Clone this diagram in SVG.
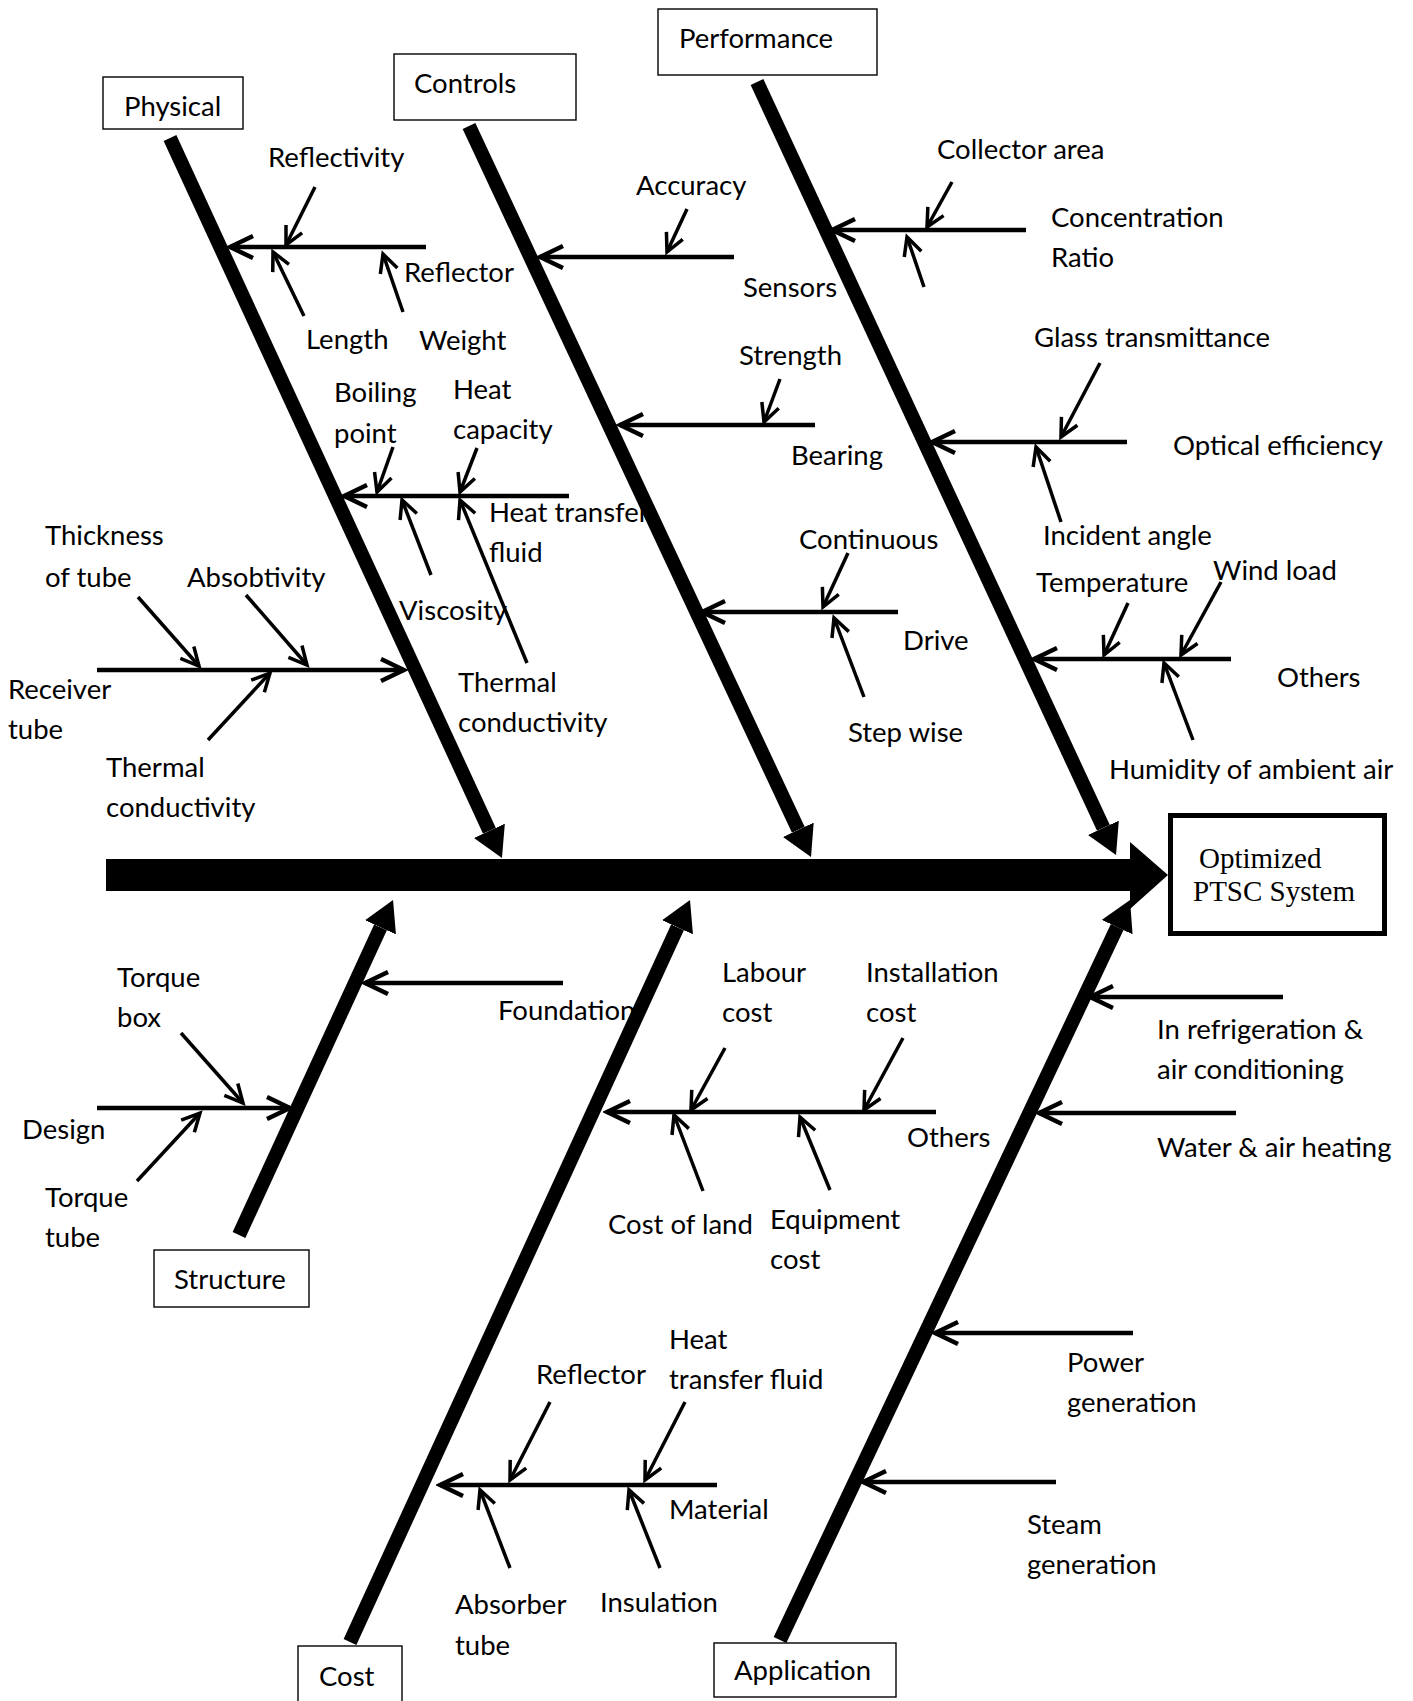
<svg xmlns="http://www.w3.org/2000/svg" width="1413" height="1701" viewBox="0 0 1413 1701">
<style>
.t{font-family:Lato,"Liberation Sans",sans-serif;font-size:27.5px;fill:#000}
.sf{font-family:"Liberation Serif",serif;font-size:29px;fill:#000}
.box{fill:#fff;stroke:#000;stroke-width:1.4}
.bone{stroke:#000;stroke-width:14;fill:none;marker-end:url(#head)}
.br{stroke:#000;stroke-width:4.5;fill:none;marker-end:url(#chev)}
.sub{stroke:#000;stroke-width:3.5;fill:none;marker-end:url(#chevS)}
</style>
<defs>
<marker id="head" markerUnits="userSpaceOnUse" viewBox="0 -17 30 34" markerWidth="30" markerHeight="34" refX="0" refY="0" orient="auto"><path d="M0,-17 L30,0 L0,17 z" fill="#000"/></marker>
<marker id="chev" markerUnits="userSpaceOnUse" viewBox="-28 -15 32 30" markerWidth="32" markerHeight="30" refX="0" refY="0" orient="auto"><path d="M-23,-11 L0,0 L-23,11" fill="none" stroke="#000" stroke-width="4.5"/></marker>
<marker id="chevS" markerUnits="userSpaceOnUse" viewBox="-22 -13 26 26" markerWidth="26" markerHeight="26" refX="0" refY="0" orient="auto"><path d="M-18,-9 L0,0 L-18,9" fill="none" stroke="#000" stroke-width="3.5"/></marker>
</defs>
<rect width="1413" height="1701" fill="#fff"/>

<g id="labels-physical" transform="translate(0,2)">
<text class="t" x="268" y="165">Reflectivity</text>
<text class="t" x="404" y="280">Reflector</text>
<text class="t" x="306" y="347">Length</text>
<text class="t" x="419" y="348">Weight</text>
<text class="t" x="334" y="400">Boiling</text>
<text class="t" x="334" y="441">point</text>
<text class="t" x="453" y="397">Heat</text>
<text class="t" x="453" y="437">capacity</text>
<text class="t" x="489" y="520">Heat transfer</text>
<text class="t" x="489" y="560">fluid</text>
<text class="t" x="399" y="618">Viscosity</text>
<text class="t" x="458" y="690">Thermal</text>
<text class="t" x="458" y="730">conductivity</text>
<text class="t" x="45" y="543">Thickness</text>
<text class="t" x="45" y="585">of tube</text>
<text class="t" x="187" y="585">Absobtivity</text>
<text class="t" x="8" y="697">Receiver</text>
<text class="t" x="8" y="737">tube</text>
<text class="t" x="106" y="775">Thermal</text>
<text class="t" x="106" y="815">conductivity</text>
</g>
<g id="labels-controls" transform="translate(0,2)">
<text class="t" x="636" y="193">Accuracy</text>
<text class="t" x="743" y="295">Sensors</text>
<text class="t" x="739" y="363">Strength</text>
<text class="t" x="791" y="463">Bearing</text>
<text class="t" x="799" y="547">Continuous</text>
<text class="t" x="903" y="648">Drive</text>
<text class="t" x="848" y="740">Step wise</text>
</g>
<g id="labels-performance" transform="translate(0,2)">
<text class="t" x="937" y="157">Collector area</text>
<text class="t" x="1051" y="225">Concentration</text>
<text class="t" x="1051" y="265">Ratio</text>
<text class="t" x="1034" y="345">Glass transmittance</text>
<text class="t" x="1173" y="453">Optical efficiency</text>
<text class="t" x="1043" y="543">Incident angle</text>
<text class="t" x="1036" y="590">Temperature</text>
<text class="t" x="1213" y="578">Wind load</text>
<text class="t" x="1277" y="685">Others</text>
<text class="t" x="1109" y="777">Humidity of ambient air</text>
</g>
<g id="labels-structure" transform="translate(0,2)">
<text class="t" x="498" y="1018">Foundation</text>
<text class="t" x="117" y="985">Torque</text>
<text class="t" x="117" y="1025">box</text>
<text class="t" x="22" y="1137">Design</text>
<text class="t" x="45" y="1205">Torque</text>
<text class="t" x="45" y="1245">tube</text>
</g>
<g id="labels-cost" transform="translate(0,2)">
<text class="t" x="722" y="980">Labour</text>
<text class="t" x="722" y="1020">cost</text>
<text class="t" x="866" y="980">Installation</text>
<text class="t" x="866" y="1020">cost</text>
<text class="t" x="907" y="1145">Others</text>
<text class="t" x="608" y="1232">Cost of land</text>
<text class="t" x="770" y="1227">Equipment</text>
<text class="t" x="770" y="1267">cost</text>
<text class="t" x="536" y="1382">Reflector</text>
<text class="t" x="669" y="1347">Heat</text>
<text class="t" x="669" y="1387">transfer fluid</text>
<text class="t" x="669" y="1517">Material</text>
<text class="t" x="455" y="1612">Absorber</text>
<text class="t" x="455" y="1653">tube</text>
<text class="t" x="600" y="1610">Insulation</text>
</g>
<g id="labels-application" transform="translate(0,2)">
<text class="t" x="1157" y="1037">In refrigeration &amp;</text>
<text class="t" x="1157" y="1077">air conditioning</text>
<text class="t" x="1157" y="1155">Water &amp; air heating</text>
<text class="t" x="1067" y="1370">Power</text>
<text class="t" x="1067" y="1410">generation</text>
<text class="t" x="1027" y="1532">Steam</text>
<text class="t" x="1027" y="1572">generation</text>
</g>

<g id="connectors">
<rect x="106" y="859" width="1028" height="32" fill="#000"/>
<polygon points="1130,842 1168,875 1130,909" fill="#000"/>
<line class="bone" x1="170" y1="138" x2="489.4" y2="830.8"/>
<line class="bone" x1="469" y1="126" x2="798.3" y2="829.8"/>
<line class="bone" x1="757" y1="82" x2="1103.4" y2="827.8"/>
<line class="bone" x1="239" y1="1235" x2="380.5" y2="927.3"/>
<line class="bone" x1="350" y1="1642" x2="677.5" y2="927.3"/>
<line class="bone" x1="780" y1="1640" x2="1117.2" y2="927.1"/>

<line class="br" x1="426" y1="247" x2="230" y2="247"/>
<line class="sub" x1="315" y1="187" x2="286" y2="245"/>
<line class="sub" x1="304" y1="316" x2="273" y2="252"/>
<line class="sub" x1="403" y1="312" x2="383" y2="254"/>
<line class="br" x1="569" y1="496" x2="344" y2="496"/>
<line class="sub" x1="393" y1="447" x2="377" y2="492"/>
<line class="sub" x1="477" y1="448" x2="460" y2="492"/>
<line class="sub" x1="431" y1="575" x2="402" y2="500"/>
<line class="sub" x1="527" y1="663" x2="460" y2="500"/>
<line class="br" x1="97" y1="670" x2="404" y2="670"/>
<line class="sub" x1="138" y1="597" x2="199" y2="666"/>
<line class="sub" x1="246" y1="595" x2="307" y2="665"/>
<line class="sub" x1="208" y1="740" x2="270" y2="673"/>

<line class="br" x1="734" y1="257" x2="540" y2="257"/>
<line class="sub" x1="687" y1="209" x2="667" y2="252"/>
<line class="br" x1="815" y1="425" x2="620" y2="425"/>
<line class="sub" x1="780" y1="379" x2="764" y2="422"/>
<line class="br" x1="898" y1="612" x2="702" y2="612"/>
<line class="sub" x1="848" y1="553" x2="823" y2="607"/>
<line class="sub" x1="864" y1="697" x2="834" y2="618"/>

<line class="br" x1="1026" y1="230" x2="832" y2="230"/>
<line class="sub" x1="952" y1="182" x2="927" y2="227"/>
<line class="sub" x1="924" y1="287" x2="907" y2="237"/>
<line class="br" x1="1127" y1="442" x2="932" y2="442"/>
<line class="sub" x1="1100" y1="363" x2="1061" y2="437"/>
<line class="sub" x1="1061" y1="522" x2="1036" y2="447"/>
<line class="br" x1="1231" y1="659" x2="1034" y2="659"/>
<line class="sub" x1="1128" y1="603" x2="1104" y2="655"/>
<line class="sub" x1="1221" y1="582" x2="1181" y2="655"/>
<line class="sub" x1="1193" y1="740" x2="1164" y2="663"/>

<line class="br" x1="563" y1="983" x2="365" y2="983"/>
<line class="br" x1="97" y1="1108" x2="290" y2="1108"/>
<line class="sub" x1="181" y1="1033" x2="243" y2="1103"/>
<line class="sub" x1="137" y1="1181" x2="200" y2="1113"/>

<line class="br" x1="936" y1="1112" x2="607" y2="1112"/>
<line class="sub" x1="725" y1="1048" x2="691" y2="1110"/>
<line class="sub" x1="903" y1="1038" x2="864" y2="1110"/>
<line class="sub" x1="703" y1="1191" x2="674" y2="1115"/>
<line class="sub" x1="830" y1="1190" x2="800" y2="1117"/>
<line class="br" x1="717" y1="1485" x2="440" y2="1485"/>
<line class="sub" x1="550" y1="1402" x2="510" y2="1480"/>
<line class="sub" x1="685" y1="1402" x2="645" y2="1480"/>
<line class="sub" x1="510" y1="1568" x2="480" y2="1490"/>
<line class="sub" x1="660" y1="1568" x2="629" y2="1490"/>

<line class="br" x1="1283" y1="997" x2="1090" y2="997"/>
<line class="br" x1="1236" y1="1113" x2="1039" y2="1113"/>
<line class="br" x1="1133" y1="1333" x2="935" y2="1333"/>
<line class="br" x1="1056" y1="1482" x2="863" y2="1482"/>
</g>

<g id="node-physical"><rect class="box" x="103" y="77" width="140" height="52"/><text class="t" x="124" y="116">Physical</text></g>
<g id="node-controls"><rect class="box" x="394" y="54" width="182" height="66"/><text class="t" x="414" y="93">Controls</text></g>
<g id="node-performance"><rect class="box" x="658" y="9" width="219" height="66"/><text class="t" x="679" y="48">Performance</text></g>
<g id="node-structure"><rect class="box" x="154" y="1250" width="155" height="57"/><text class="t" x="174" y="1289">Structure</text></g>
<g id="node-cost"><rect class="box" x="298" y="1646" width="104" height="70"/><text class="t" x="319" y="1686">Cost</text></g>
<g id="node-application"><rect class="box" x="714" y="1643" width="182" height="54"/><text class="t" x="734" y="1680">Application</text></g>
<g id="node-effect"><rect x="1170.5" y="815.5" width="214" height="118" fill="#fff" stroke="#000" stroke-width="5"/><text class="sf" x="1199" y="868">Optimized</text><text class="sf" x="1193" y="901">PTSC System</text></g>
</svg>
